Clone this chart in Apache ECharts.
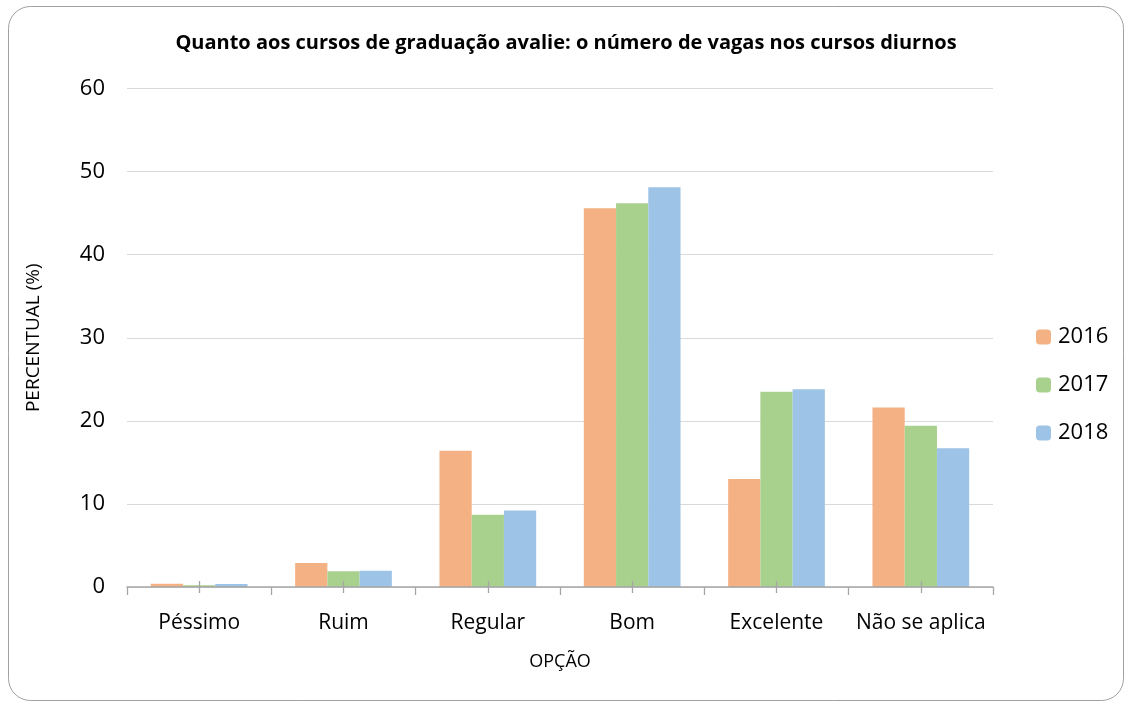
<!DOCTYPE html>
<html lang="pt">
<head>
    <meta charset="UTF-8">
    <title>Número de vagas nos cursos diurnos</title>
    <script src="https://cdn.jsdelivr.net/npm/echarts@6/dist/echarts.min.js"></script>
    <style>
        html, body { margin: 0; padding: 0; background: #fff; }
        #chart { width: 1132px; height: 707px; }
    </style>
</head>
<body>
<div id="chart"></div>
<script>
    var categorias = ['Péssimo', 'Ruim', 'Regular', 'Bom', 'Excelente', 'Não se aplica'];
    var anos = ['2016', '2017', '2018'];
    var v2016 = [0.4, 2.9, 16.4, 45.6, 13.0, 21.6];
    var v2017 = [0.2, 1.9, 8.7, 46.2, 23.5, 19.4];
    var v2018 = [0.35, 1.95, 9.2, 48.1, 23.8, 16.7];
    var cores = ['#F4B183', '#A9D18E', '#9DC3E6'];

    var fonte = 'Open Sans, Noto Sans, sans-serif';
    var corEixo = '#a6a6a6';
    var chart = echarts.init(document.getElementById('chart'));

    // eixos extras so para os tracinhos (limites e meio de cada categoria)
    function eixoTick(inside, meio, comp) {
        return {
            type: 'category', data: categorias, position: 'bottom', offset: 0, z: 5,
            axisLine: { show: false, onZero: false }, splitLine: { show: false },
            axisLabel: { show: true, interval: 0, color: 'rgba(0,0,0,0)', fontSize: 21, fontFamily: fonte },
            axisTick: { show: true, interval: 0, alignWithLabel: meio, inside: inside, length: comp,
                lineStyle: { color: corEixo, width: 1.3 } }
        };
    }

    var series = [v2016, v2017, v2018].map(function (d, i) {
        return {
            name: anos[i], type: 'bar', data: d,
            barGap: '0%', barCategoryGap: '33%',
            itemStyle: { color: cores[i] }
        };
    });

    chart.setOption({
        animation: false,
        graphic: [{
            type: 'rect', silent: true, z: -1,
            shape: { x: 8.5, y: 6.5, width: 1115, height: 694, r: 22 },
            style: { fill: '#fff', stroke: '#a0a0a0', lineWidth: 1 }
        }],
        title: {
            text: 'Quanto aos cursos de graduação avalie: o número de vagas nos cursos diurnos',
            left: 'center', top: 28,
            textStyle: { fontFamily: fonte, fontSize: 20, fontWeight: 'bold', color: '#000' }
        },
        legend: {
            orient: 'vertical', left: 1031, top: 321,
            itemWidth: 15, itemHeight: 15, itemGap: 26,
            data: anos,
            textStyle: { fontFamily: fonte, fontSize: 22, color: '#000', padding: [0, 0, 0, 2] }
        },
        grid: { left: 127, right: 139, top: 88.5, bottom: 120 },
        xAxis: [{
            type: 'category', data: categorias, z: 5,
            name: 'OPÇÃO', nameLocation: 'middle', nameGap: 66,
            nameTextStyle: { fontFamily: fonte, fontSize: 18, color: '#000' },
            axisLine: { lineStyle: { color: corEixo, width: 1.5 } },
            axisTick: { show: false },
            axisLabel: { fontFamily: fonte, fontSize: 21, color: '#000', margin: 26, interval: 0 }
        }, eixoTick(false, false, 8), eixoTick(true, true, 6), eixoTick(false, true, 6)],
        yAxis: {
            type: 'value', min: 0, max: 60, interval: 10,
            name: 'PERCENTUAL (%)', nameLocation: 'middle', nameGap: 84,
            nameTextStyle: { fontFamily: fonte, fontSize: 19, color: '#000' },
            axisLine: { show: false }, axisTick: { show: false },
            axisLabel: { fontFamily: fonte, fontSize: 22, color: '#000', margin: 22 },
            splitLine: { lineStyle: { color: '#d9d9d9', width: 1 } }
        },
        series: series
    });
</script>
</body>
</html>
